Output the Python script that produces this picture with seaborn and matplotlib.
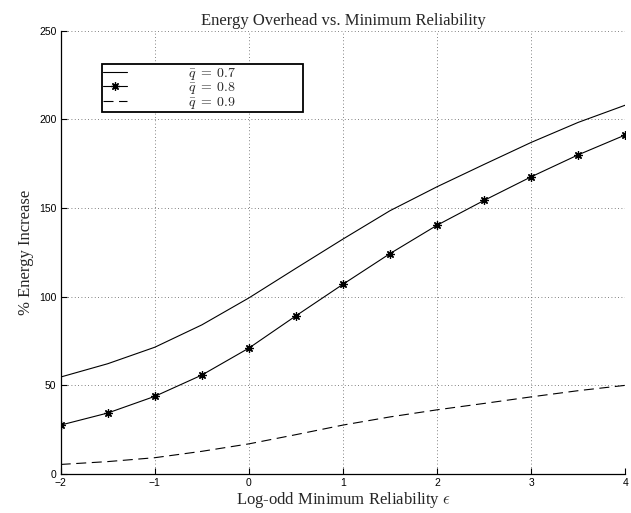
import numpy as np
import pandas as pd
import matplotlib
matplotlib.use("Agg")
import matplotlib.pyplot as plt
import seaborn as sns

# log-odd minimum reliability values
eps = [-2, -1.5, -1, -0.5, 0, 0.5, 1, 1.5, 2, 2.5, 3, 3.5, 4]

# % energy increase per q-bar
q07 = [54.7, 62.2, 71.5, 84.1, 99.3, 116, 132.5, 148.5, 162, 174.6, 187, 198.3, 208]
q08 = [27.6, 34.4, 43.8, 55.8, 71, 89.2, 107, 124.3, 140.3, 154.3, 167.6, 180, 191.2]
q09 = [5.4, 7, 9.2, 12.8, 17, 22.2, 27.6, 32.2, 36.2, 39.8, 43.5, 47, 50]

labels = [r"$\bar{q}\;=\;0.7$", r"$\bar{q}\;=\;0.8$", r"$\bar{q}\;=\;0.9$"]
xticks = [-2, -1, 0, 1, 2, 3, 4]
yticks = [0, 50, 100, 150, 200, 250]

df = pd.DataFrame({"eps": eps, "q07": q07, "q08": q08, "q09": q09})

sns.set_style("white")
plt.rcParams["mathtext.fontset"] = "cm"
plt.rcParams["font.family"] = ["Liberation Sans", "DejaVu Sans"]

fig = plt.figure(figsize=(6.31, 5.13), dpi=100)
ax = fig.add_axes([0.0962, 0.076, 0.8946, 0.8641])

sns.lineplot(data=df, x="eps", y="q07", ax=ax, color="black", linewidth=0.8,
             label=labels[0])
sns.lineplot(data=df, x="eps", y="q08", ax=ax, color="black", linewidth=0.8,
             marker=(8, 2, 0), markersize=6, markeredgewidth=0.9,
             markeredgecolor="black", label=labels[1])
sns.lineplot(data=df, x="eps", y="q09", ax=ax, color="black", linewidth=0.8,
             linestyle=(0, (9, 5)), label=labels[2])

ax.set_xlim(-2, 4)
ax.set_ylim(0, 250)
ax.set_xticks(xticks)
ax.set_yticks(yticks)
ax.set_xticklabels(["\u22122", "\u22121", "0", "1", "2", "3", "4"])
ax.tick_params(direction="in", length=4, width=0.8, labelsize=7.5, colors="black",
               left=True, bottom=True, pad=3)

ax.grid(True, color="0.35", linestyle=(0, (1, 3)), linewidth=0.6)
for side in ["top", "right"]:
    ax.spines[side].set_visible(False)
for side in ["left", "bottom"]:
    ax.spines[side].set_color("black")
    ax.spines[side].set_linewidth(0.9)

serif = ["Liberation Serif", "DejaVu Serif"]
ax.set_title("Energy Overhead vs. Minimum Reliability", fontsize=12, family=serif, pad=4)
ax.set_xlabel(r"Log-odd Minimum Reliability $\epsilon$", fontsize=12, family=serif, labelpad=1)
ax.set_ylabel("% Energy Increase", fontsize=12, family=serif, labelpad=4)

leg = ax.legend(loc="upper left", bbox_to_anchor=(0.0727, 0.8195, 0.357, 0.105),
                mode="expand", borderaxespad=0, fontsize=10, frameon=True,
                fancybox=False, edgecolor="black", framealpha=1,
                handlelength=1.7, handletextpad=4.4, labelspacing=-0.1,
                borderpad=0.1)
leg.get_frame().set_linewidth(1.3)

fig.savefig("out.png", dpi=100)
